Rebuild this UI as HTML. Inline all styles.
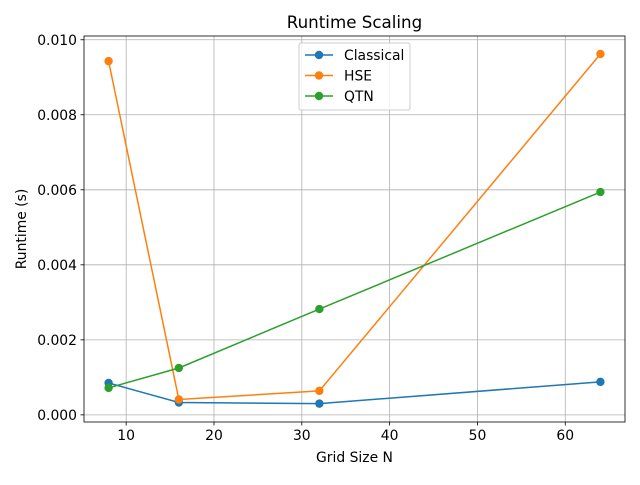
<!DOCTYPE html>
<html><head><meta charset="utf-8"><style>
body{margin:0;background:#fff}
svg text{font-family:"DejaVu Sans","Liberation Sans",sans-serif;fill:#000}
</style></head><body>
<svg id="c" width="640" height="480" xmlns="http://www.w3.org/2000/svg"></svg>
<script>
const categories=[8,16,32,64];
const classical=[0.00085,0.00033,0.00030,0.00088];
const hse=[0.00943,0.00041,0.00064,0.00962];
const qtn=[0.00072,0.00125,0.00282,0.00594];
const xTicks=[10,20,30,40,50,60];
const yTicks=[0,0.002,0.004,0.006,0.008,0.010];
const yTickLabels=["0.000","0.002","0.004","0.006","0.008","0.010"];
const seriesNames=["Classical","HSE","QTN"];

const L=84,R=625,T=36,B=422;
const xmin=5.2,xmax=66.8,ymin=-0.00019,ymax=0.0101;
const X=v=>L+(v-xmin)/(xmax-xmin)*(R-L);
const Y=v=>B-(v-ymin)/(ymax-ymin)*(B-T);
const svg=document.getElementById('c');
const NS='http://www.w3.org/2000/svg';
function mk(tag,attrs,parent){const e=document.createElementNS(NS,tag);for(const k in attrs)e.setAttribute(k,attrs[k]);(parent||svg).appendChild(e);return e;}

const grid=mk('g',{});


xTicks.forEach((t,i)=>{
  mk('line',{x1:X(t),x2:X(t),y1:T,y2:B,stroke:'#b0b0b0','stroke-width':0.8},grid);
  mk('line',{x1:X(t),x2:X(t),y1:B,y2:B+3.5,stroke:'#000','stroke-width':0.8});
  const tx=mk('text',{x:X(t),y:B+18,'text-anchor':'middle','font-size':13.9});
  tx.textContent=t;
  
  
});
yTicks.forEach((t,i)=>{
  mk('line',{x1:L,x2:R,y1:Y(t),y2:Y(t),stroke:'#b0b0b0','stroke-width':0.8},grid);
  mk('line',{x1:L-3.5,x2:L,y1:Y(t),y2:Y(t),stroke:'#000','stroke-width':0.8});
  const tx=mk('text',{x:L-7,y:Y(t)+5,'text-anchor':'end','font-size':13.9});
  tx.textContent=yTickLabels[i];
  
  
});

const colors=['#1f77b4','#ff7f0e','#2ca02c'];
[classical,hse,qtn].forEach((s,si)=>{
  const g=mk('g',{});
  
  
  mk('polyline',{points:s.map((v,i)=>X(categories[i])+','+Y(v)).join(' '),fill:'none',stroke:colors[si],'stroke-width':1.5},g);
  s.forEach((v,i)=>{
    const c=mk('circle',{cx:X(categories[i]),cy:Y(v),r:4.2,fill:colors[si]},g);
    
    
  });
});

const frame=mk('rect',{x:L,y:T,width:R-L,height:B-T,fill:'none',stroke:'#000','stroke-width':0.8});



const title=mk('text',{x:(L+R)/2,y:28,'text-anchor':'middle','font-size':16.7});
title.textContent='Runtime Scaling';


const xl=mk('text',{x:(L+R)/2,y:462,'text-anchor':'middle','font-size':13.9});
xl.textContent='Grid Size N';


const yl=mk('text',{x:0,y:0,'text-anchor':'middle','font-size':13.9,transform:'translate(26,'+((T+B)/2)+') rotate(-90)'});
yl.textContent='Runtime (s)';



const leg=mk('g',{});


mk('rect',{x:299,y:43,width:111,height:67,rx:2,fill:'#fff','fill-opacity':0.8,stroke:'#ccc'},leg);
seriesNames.forEach((n,i)=>{
  const y=55+i*20.5;
  const e=mk('g',{},leg);
  
  
  mk('line',{x1:305,x2:333,y1:y,y2:y,stroke:colors[i],'stroke-width':1.5},e);
  mk('circle',{cx:319,cy:y,r:4.2,fill:colors[i]},e);
  const t=mk('text',{x:344,y:y+5,'font-size':13.9},e);
  t.textContent=n;
});
</script>
</body></html>
